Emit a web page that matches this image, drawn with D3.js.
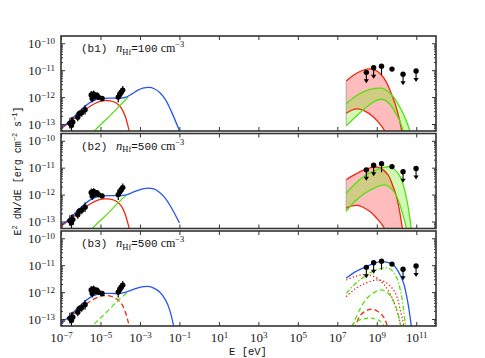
<!DOCTYPE html>
<html>
<head>
<meta charset="utf-8">
<script src="https://cdn.jsdelivr.net/npm/d3@7"></script>
<style>
  body { margin: 0; background: #fff; }
  .mono { font-family: "Liberation Mono", "DejaVu Sans Mono", monospace; }
  .serif { font-family: "Liberation Serif", "DejaVu Serif", serif; }
</style>
</head>
<body>
<script>
//tick labels (exponents of ten)
var xTickExp = [-7, -5, -3, -1, 1, 3, 5, 7, 9, 11];
var yTickExp = [-13, -12, -11, -10];

//panel labels
var panelNames = ["(b1)", "(b2)", "(b3)"];
var panelDensity = ["100", "500", "500"];

//radio data: log10 E [eV], log10 E2dN/dE, error (dex)
var radioE = [-6.55, -6.47, -6.4, -6.15, -6.08, -5.95, -5.78, -5.47, -5.42, -5.35, -5.27, -5.18, -5.1, -4.92, -4.1, -4.02, -3.95, -3.87];
var radioF = [-12.97, -13.05, -12.93, -12.75, -12.62, -12.58, -12.47, -11.92, -12.05, -11.88, -11.98, -11.93, -12.0, -12.05, -12.0, -11.9, -11.82, -11.74];
var radioErr = [0.2, 0.3, 0.2, 0.15, 0.12, 0.15, 0.18, 0.15, 0.15, 0.12, 0.1, 0.1, 0.1, 0.08, 0.2, 0.15, 0.15, 0.15];

//gamma-ray data: upper limits (ul=1), points with error bar
var gammaE = [8.47, 8.84, 9.24, 9.77, 10.33, 10.99];
var gammaF = [-11.08, -10.91, -10.85, -10.96, -11.15, -11.03];
var gammaUL = [1, 1, 0, 0, 1, 1];
var gammaLo = [null, null, -11.17, -11.0, null, null];
var gammaHi = [null, null, -10.78, -10.92, null, null];

//(b1) model curves [log E, log F]
var b1Blue = [[-7.0,-13.13],[-6.6,-12.93],[-6.2,-12.62],[-5.8,-12.35],[-5.4,-12.15],[-5.0,-12.06],[-4.5,-12.04],[-4.0,-12.04],[-3.7,-12.0],[-3.4,-11.88],[-3.1,-11.74],[-2.8,-11.66],[-2.55,-11.64],[-2.3,-11.68],[-2.0,-11.83],[-1.7,-12.1],[-1.4,-12.55],[-1.0,-13.25]];
var b1Red = [[-7.0,-13.18],[-6.5,-12.9],[-6.0,-12.6],[-5.5,-12.33],[-5.1,-12.18],[-4.8,-12.13],[-4.5,-12.14],[-4.2,-12.22],[-3.95,-12.4],[-3.75,-12.7],[-3.6,-13.1],[-3.5,-13.4]];
var b1Green = [[-5.5,-13.4],[-5.0,-13.03],[-4.5,-12.68],[-4.0,-12.3],[-3.6,-12.0]];
var b1PionHi = [[7.45,-11.4],[7.8,-11.2],[8.2,-11.03],[8.55,-10.95],[8.9,-10.99],[9.2,-11.15],[9.45,-11.4],[9.7,-11.8],[9.95,-12.3],[10.15,-12.85],[10.3,-13.4]];
var b1PionLo = [[7.45,-12.6],[7.75,-12.48],[8.05,-12.44],[8.4,-12.52],[8.8,-12.72],[9.1,-12.95],[9.4,-13.25],[9.5,-13.4]];
var b1BremHi = [[7.45,-12.25],[7.9,-11.98],[8.4,-11.78],[8.9,-11.68],[9.25,-11.67],[9.55,-11.78],[9.85,-12.0],[10.15,-12.35],[10.45,-12.8],[10.7,-13.3],[10.75,-13.4]];
var b1BremLo = [[7.45,-13.07],[7.9,-12.75],[8.5,-12.36],[8.9,-12.16],[9.2,-12.08],[9.5,-12.15],[9.75,-12.35],[10.0,-12.65],[10.2,-12.95],[10.35,-13.3],[10.4,-13.4]];

//(b2) model curves
var b2Blue = [[-7.0,-13.13],[-6.6,-12.93],[-6.2,-12.62],[-5.8,-12.35],[-5.4,-12.15],[-5.0,-12.06],[-4.5,-12.04],[-4.0,-12.04],[-3.7,-12.01],[-3.4,-11.93],[-3.1,-11.84],[-2.8,-11.78],[-2.6,-11.76],[-2.3,-11.79],[-2.0,-11.92],[-1.7,-12.15],[-1.4,-12.5],[-1.0,-13.05]];
var b2Red = [[-7.0,-13.18],[-6.5,-12.9],[-6.0,-12.6],[-5.5,-12.34],[-5.1,-12.2],[-4.8,-12.16],[-4.5,-12.17],[-4.2,-12.25],[-3.95,-12.42],[-3.75,-12.72],[-3.6,-13.1],[-3.5,-13.4]];
var b2Green = [[-5.6,-13.4],[-5.1,-13.03],[-4.6,-12.68],[-4.1,-12.3],[-3.7,-12.02]];
var b2PionHi = [[7.45,-11.44],[7.9,-11.25],[8.3,-11.1],[8.7,-11.0],[9.05,-10.98],[9.35,-11.1],[9.6,-11.3],[9.8,-11.65],[9.95,-11.95],[10.1,-12.4],[10.2,-12.8],[10.33,-13.4]];
var b2PionLo = [[7.45,-12.5],[7.75,-12.42],[8.0,-12.4],[8.3,-12.47],[8.7,-12.66],[9.0,-12.88],[9.3,-13.15],[9.5,-13.45]];
var b2BremHi = [[7.45,-11.95],[7.9,-11.6],[8.4,-11.3],[8.85,-11.12],[9.3,-11.0],[9.65,-10.97],[9.95,-11.1],[10.2,-11.35],[10.4,-11.8],[10.55,-12.3],[10.68,-12.9],[10.78,-13.45]];
var b2BremLo = [[7.45,-12.62],[7.9,-12.25],[8.4,-11.95],[8.9,-11.75],[9.4,-11.64],[9.75,-11.78],[10.0,-12.05],[10.2,-12.45],[10.4,-12.95],[10.55,-13.45]];

//(b3) model curves
var b3Blue = [[-7.0,-13.13],[-6.6,-12.93],[-6.2,-12.62],[-5.8,-12.35],[-5.4,-12.15],[-5.0,-12.06],[-4.5,-12.05],[-4.0,-12.05],[-3.7,-12.0],[-3.4,-11.92],[-3.1,-11.84],[-2.8,-11.8],[-2.6,-11.79],[-2.3,-11.85],[-2.0,-12.0],[-1.7,-12.3],[-1.5,-12.65],[-1.25,-13.4]];
var b3RedDash = [[-7.0,-13.18],[-6.5,-12.9],[-6.0,-12.6],[-5.5,-12.33],[-5.1,-12.18],[-4.8,-12.13],[-4.5,-12.15],[-4.2,-12.25],[-3.95,-12.42],[-3.75,-12.72],[-3.6,-13.1],[-3.5,-13.4]];
var b3GreenDash = [[-5.6,-13.4],[-5.1,-13.03],[-4.6,-12.68],[-4.1,-12.3],[-3.65,-12.02]];
var b3GammaBlue = [[7.45,-11.49],[7.9,-11.25],[8.5,-11.04],[8.9,-10.92],[9.2,-10.87],[9.55,-10.9],[9.85,-11.0],[10.1,-11.25],[10.36,-11.67],[10.5,-12.1],[10.61,-12.54],[10.7,-13.0],[10.78,-13.45]];
var b3PionDot1 = [[7.45,-11.55],[7.9,-11.42],[8.3,-11.35],[8.7,-11.38],[9.05,-11.5],[9.4,-11.75],[9.7,-12.1],[9.95,-12.55],[10.15,-13.05],[10.28,-13.45]];
var b3PionDot2 = [[7.45,-12.17],[7.9,-11.88],[8.4,-11.68],[9.0,-11.55],[9.4,-11.62],[9.85,-11.92],[10.05,-12.25],[10.19,-12.67],[10.3,-13.0],[10.4,-13.45]];
var b3BremDashDot = [[7.45,-12.05],[7.9,-11.7],[8.5,-11.36],[9.0,-11.17],[9.4,-11.1],[9.7,-11.15],[10.0,-11.45],[10.2,-11.95],[10.35,-12.6],[10.48,-13.45]];
var b3BremDash = [[7.75,-13.3],[8.1,-12.7],[8.5,-12.23],[8.9,-12.0],[9.2,-11.92],[9.5,-12.0],[9.75,-12.2],[10.0,-12.62],[10.2,-13.2],[10.25,-13.45]];
var b3PionDash = [[7.85,-13.4],[8.15,-12.88],[8.45,-12.7],[8.75,-12.63],[9.05,-12.72],[9.34,-12.92],[9.6,-13.4]];
var b3BremLow = [[7.55,-13.45],[7.85,-13.15],[8.3,-13.0],[8.8,-12.98],[9.2,-13.1],[9.5,-13.45]];

(function(){
  var width = 485, height = 358,
      left = 61, right = 436,
      panelTop = 36, panelH = 95, panelStep = 97.5;

  var blue = "#2456f0", red = "#f0260c", green = "#55e010";

  var svg = d3.select("body") //main svg
    .append("svg")
    .attr("width", width)
    .attr("height", height);

  var pw = function(v){ return Math.pow(10, v); };

  var x = d3.scaleLog() //shared energy axis
    .domain([1e-7, 1e12])
    .range([left, right]);

  var xTicks = xTickExp.map(pw);
  var yTicks = yTickExp.map(pw);
  var yMinor = [];
  for (var d = -14; d <= -10; d++){
    for (var k = 2; k <= 9; k++){
      var v = k * Math.pow(10, d);
      if (v > pw(-13.26) && v < pw(-9.73)) yMinor.push(v);
    }
  }

  //what to draw in each panel
  var panels = [
    { lines: [
        [b1Red, red, null], [b1Green, green, null], [b1Blue, blue, null],
        [b1PionHi, red, null], [b1PionLo, red, null], [b1BremHi, green, null], [b1BremLo, green, null]
      ], bands: [[b1PionHi, b1PionLo, "rgba(255,80,80,0.38)"], [b1BremHi, b1BremLo, "rgba(110,235,20,0.32)"]] },
    { lines: [
        [b2Red, red, null], [b2Green, green, null], [b2Blue, blue, null],
        [b2PionHi, red, null], [b2PionLo, red, null], [b2BremHi, green, null], [b2BremLo, green, null]
      ], bands: [[b2PionHi, b2PionLo, "rgba(255,80,80,0.38)"], [b2BremHi, b2BremLo, "rgba(110,235,20,0.32)"]] },
    { lines: [
        [b3RedDash, red, "5,3"], [b3GreenDash, green, "5,3"], [b3Blue, blue, null],
        [b3PionDot1, red, "1.3,2.2"], [b3PionDot2, red, "1.3,2.2"],
        [b3BremDashDot, green, "5,2,1.3,2"], [b3BremDash, green, "5,3"],
        [b3PionDash, red, "5,3"], [b3BremLow, green, "4,3"],
        [b3GammaBlue, blue, null]
      ], bands: [] }
  ];

  panels.forEach(function(p, i){
    var top = panelTop + i * panelStep;

    var y = d3.scaleLog()
      .domain([pw(-13.26), pw(-9.73)])
      .range([top + panelH, top]);

    var line = d3.line()
      .x(function(d){ return x(pw(d[0])); })
      .y(function(d){ return y(pw(d[1])); })
      .curve(d3.curveCatmullRom.alpha(0.5));

    svg.append("clipPath") //clip to panel
      .attr("id", "clip" + i)
      .append("rect")
      .attr("x", left).attr("y", top)
      .attr("width", right - left).attr("height", panelH);

    var g = svg.append("g").attr("clip-path", "url(#clip" + i + ")");

    //shaded bands
    p.bands.forEach(function(b){
      var lo = b[1].slice().reverse();
      g.append("path")
        .attr("d", line(b[0]) + "L" + line(lo).slice(1) + "Z")
        .attr("fill", b[2])
        .attr("stroke", "none");
    });
    if (p.bands.length){
      var topStart = d3.max(p.bands, function(b){ return b[0][0][1]; });
      var lowStart = d3.min(p.bands, function(b){ return b[1][0][1]; });
      g.append("line")
        .attr("x1", x(pw(p.bands[0][0][0][0]))).attr("x2", x(pw(p.bands[0][0][0][0])))
        .attr("y1", y(pw(topStart))).attr("y2", y(pw(lowStart)))
        .attr("stroke", "#aaa").attr("stroke-width", 1);
    }

    //model curves
    p.lines.forEach(function(l){
      g.append("path")
        .attr("d", line(l[0]))
        .attr("fill", "none")
        .attr("stroke", l[1])
        .attr("stroke-width", 1.3)
        .attr("stroke-dasharray", l[2]);
    });

    //radio data
    var radio = g.selectAll(".radio" + i)
      .data(radioE)
      .enter()
      .append("g");
    radio.append("line")
      .attr("x1", function(d){ return x(pw(d)); })
      .attr("x2", function(d){ return x(pw(d)); })
      .attr("y1", function(d, j){ return y(pw(radioF[j] - radioErr[j])); })
      .attr("y2", function(d, j){ return y(pw(radioF[j] + radioErr[j])); })
      .attr("stroke", "#000").attr("stroke-width", 1.2);
    radio.append("circle")
      .attr("cx", function(d){ return x(pw(d)); })
      .attr("cy", function(d, j){ return y(pw(radioF[j])); })
      .attr("r", 2.7)
      .attr("fill", "#000");

    //gamma-ray data
    gammaE.forEach(function(e, j){
      var cx = x(pw(e)), cy = y(pw(gammaF[j]));
      if (gammaUL[j]){
        g.append("line")
          .attr("x1", cx).attr("x2", cx).attr("y1", cy).attr("y2", cy + 9)
          .attr("stroke", "#000").attr("stroke-width", 1.1);
        g.append("path")
          .attr("d", "M" + (cx - 2.6) + "," + (cy + 7) + "L" + (cx + 2.6) + "," + (cy + 7) + "L" + cx + "," + (cy + 11) + "Z")
          .attr("fill", "#000");
      } else {
        g.append("line")
          .attr("x1", cx).attr("x2", cx)
          .attr("y1", y(pw(gammaLo[j]))).attr("y2", y(pw(gammaHi[j])))
          .attr("stroke", "#000").attr("stroke-width", 1.1);
      }
      g.append("circle")
        .attr("cx", cx).attr("cy", cy).attr("r", 2.7).attr("fill", "#000");
    });

    //axes: ticks pointing inward
    var yLeft = svg.append("g")
      .attr("transform", "translate(" + left + ",0)")
      .call(d3.axisLeft(y).tickValues(yTicks).tickSizeInner(-4).tickSizeOuter(0).tickPadding(6));
    yLeft.selectAll(".tick text")
      .attr("class", "serif")
      .attr("font-size", "13px")
      .attr("fill", "#222")
      .each(function(d, j){
        var t = d3.select(this).text(null);
        t.append("tspan").text("10");
        t.append("tspan").attr("dy", "-0.45em").attr("font-size", "9px").text("\u2212" + Math.abs(yTickExp[j]));
      });
    svg.append("g")
      .attr("transform", "translate(" + left + ",0)")
      .call(d3.axisLeft(y).tickValues(yMinor).tickSizeInner(-2).tickSizeOuter(0).tickFormat(""));
    svg.append("g")
      .attr("transform", "translate(" + right + ",0)")
      .call(d3.axisRight(y).tickValues(yTicks).tickSizeInner(-4).tickSizeOuter(0).tickFormat(""));
    svg.append("g")
      .attr("transform", "translate(" + right + ",0)")
      .call(d3.axisRight(y).tickValues(yMinor).tickSizeInner(-2).tickSizeOuter(0).tickFormat(""));
    svg.append("g")
      .attr("transform", "translate(0," + top + ")")
      .call(d3.axisTop(x).tickValues(xTicks).tickSizeInner(-4).tickSizeOuter(0).tickFormat(""));
    var xBottom = svg.append("g")
      .attr("transform", "translate(0," + (top + panelH) + ")")
      .call(d3.axisBottom(x).tickValues(xTicks).tickSizeInner(-4).tickSizeOuter(0).tickPadding(7));
    if (i == 2){
      xBottom.selectAll(".tick text")
        .attr("class", "serif")
        .attr("font-size", "13px")
        .attr("fill", "#222")
        .each(function(d, j){
          var t = d3.select(this).text(null);
          var e = xTickExp[j];
          t.append("tspan").text("10");
          t.append("tspan").attr("dy", "-0.45em").attr("font-size", "9px").text(e < 0 ? "\u2212" + Math.abs(e) : String(e));
        });
    } else {
      xBottom.selectAll(".tick text").remove();
    }
    svg.selectAll(".domain").remove();
    svg.selectAll(".tick line").attr("stroke", "#333");

    //panel frame
    svg.append("rect")
      .attr("x", left).attr("y", top)
      .attr("width", right - left).attr("height", panelH)
      .attr("fill", "none")
      .attr("stroke", "#333")
      .attr("stroke-width", 1.6);

    //panel label
    var lab = svg.append("text")
      .attr("x", 81)
      .attr("y", top + 16)
      .attr("fill", "#111");
    lab.append("tspan").attr("class", "mono").attr("font-size", "11px").text(panelNames[i] + " ");
    lab.append("tspan").attr("class", "serif").attr("font-size", "12.5px").attr("font-style", "italic").attr("dx", 2).text("n");
    lab.append("tspan").attr("class", "serif").attr("font-size", "8.5px").attr("dy", 2.5).text("Hf");
    lab.append("tspan").attr("class", "mono").attr("font-size", "11px").attr("dy", -2.5).text("=" + panelDensity[i]);
    lab.append("tspan").attr("class", "serif").attr("font-size", "12px").attr("dx", 3).text("cm");
    lab.append("tspan").attr("class", "serif").attr("font-size", "8.5px").attr("dy", -5).text("\u22123");
  });

  //axis titles
  svg.append("text")
    .attr("class", "mono")
    .attr("x", 248)
    .attr("y", 355)
    .attr("text-anchor", "middle")
    .attr("font-size", "10.5px")
    .attr("fill", "#111")
    .text("E [eV]");

  var yl = svg.append("text")
    .attr("class", "mono")
    .attr("transform", "translate(21,171) rotate(-90)")
    .attr("text-anchor", "middle")
    .attr("font-size", "10px")
    .attr("fill", "#111");
  yl.append("tspan").text("E");
  yl.append("tspan").attr("dy", -4).attr("font-size", "7px").text("2");
  yl.append("tspan").attr("dy", 4).text(" dN/dE [erg cm");
  yl.append("tspan").attr("dy", -4).attr("font-size", "7px").text("\u22122");
  yl.append("tspan").attr("dy", 4).text(" s");
  yl.append("tspan").attr("dy", -4).attr("font-size", "7px").text("\u22121");
  yl.append("tspan").attr("dy", 4).text("]");
})();
</script>
</body>
</html>
